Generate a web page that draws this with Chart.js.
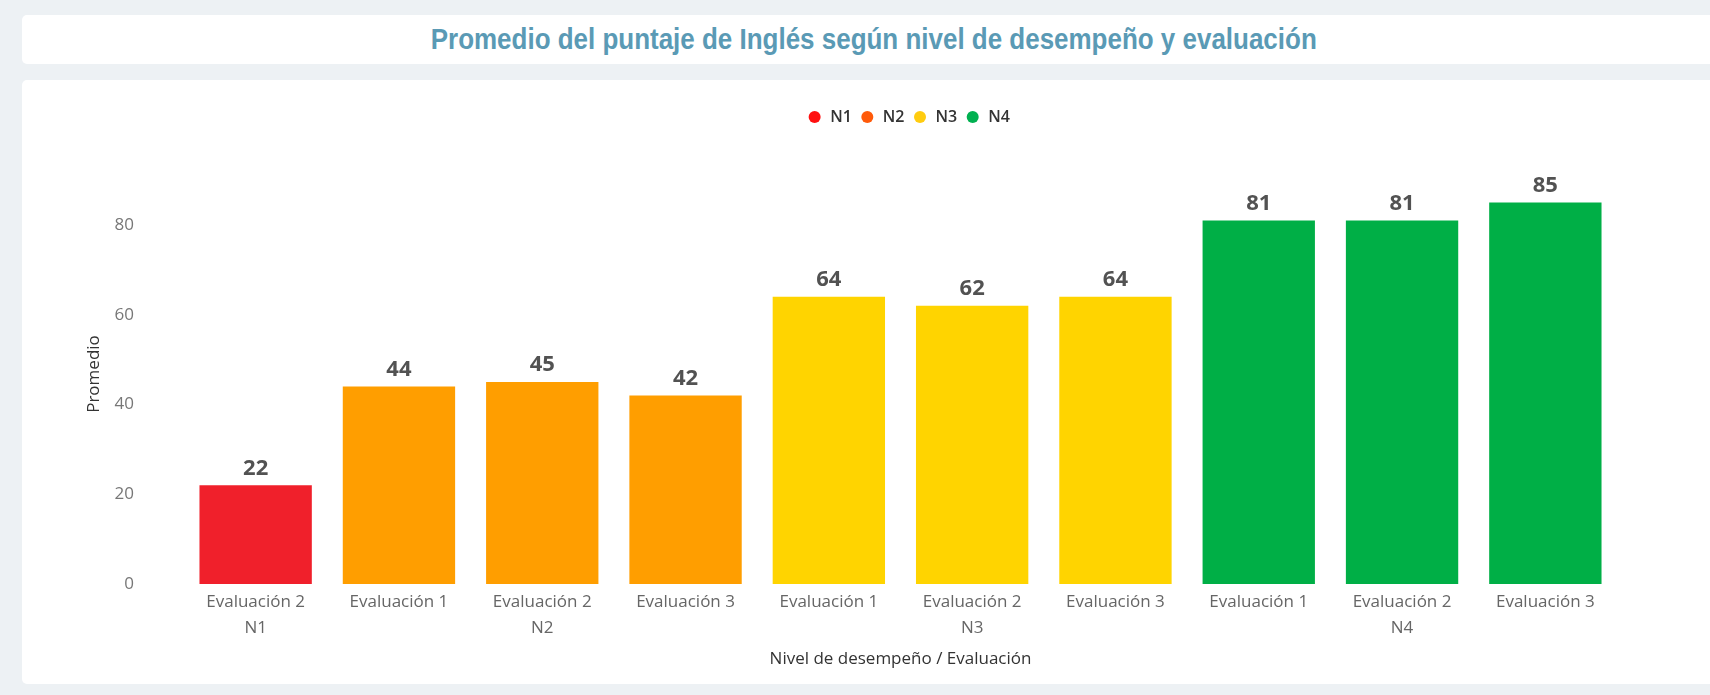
<!DOCTYPE html>
<html lang="es">
<head>
<meta charset="utf-8">
<title>Promedio del puntaje de Inglés</title>
<script src="https://cdn.jsdelivr.net/npm/chart.js@4.4.1/dist/chart.umd.min.js"></script>
<style>
  html, body { margin: 0; padding: 0; }
  body {
    width: 1710px; height: 695px; overflow: hidden;
    background: #edf1f4; position: relative;
    font-family: "Open Sans", sans-serif;
  }
  .card { position: absolute; background: #ffffff; border-radius: 5px; }
  #titleCard {
    left: 22px; top: 15px; width: 1704px; height: 49px;
    display: flex; align-items: center; justify-content: center;
  }
  #titleText {
    font: bold 29px "Liberation Sans Narrow", "Liberation Sans", Arial, sans-serif;
    color: #5a9ab5; white-space: nowrap; transform-origin: center;
  }
  #chartCard { left: 22px; top: 80px; width: 1704px; height: 604px; }
  #chartBox { position: absolute; left: 0; top: 0; width: 1688px; height: 604px; }
</style>
</head>
<body>
<div id="titleCard" class="card">
  <div id="titleText">Promedio del puntaje de Inglés según nivel de desempeño y evaluación</div>
</div>
<div id="chartCard" class="card">
  <div id="chartBox"><canvas id="chart"></canvas></div>
</div>
<script>
// Evaluación de cada barra, su nivel de desempeño y el puntaje promedio
const evaluaciones = ['Evaluación 2', 'Evaluación 1', 'Evaluación 2', 'Evaluación 3',
                      'Evaluación 1', 'Evaluación 2', 'Evaluación 3',
                      'Evaluación 1', 'Evaluación 2', 'Evaluación 3'];
const niveles = ['N1', 'N2', 'N2', 'N2', 'N3', 'N3', 'N3', 'N4', 'N4', 'N4'];
const promedios = [22, 44, 45, 42, 64, 62, 64, 81, 81, 85];

const nivelesLeyenda = ['N1', 'N2', 'N3', 'N4'];
const coloresBarra = ['#F0202B', '#FF9E00', '#FFD400', '#00AF46'];
const coloresLeyenda = ['#FF1010', '#FF5A0A', '#FFCC10', '#00B050'];
const yTicks = [0, 20, 40, 60, 80];

const FONT = '"Open Sans", "Noto Sans", sans-serif';

// Title: fit the condensed heading to its width
(function () {
  const el = document.getElementById('titleText');
  const w = el.getBoundingClientRect().width;
  el.style.transform = 'scaleX(' + (886 / w) + ')';
})();

// Category labels: the level name goes under the middle bar of its group
const xLabels = evaluaciones.map((e, i) => {
  const idx = niveles.map((n, j) => (n === niveles[i] ? j : -1)).filter(j => j >= 0);
  const mid = idx[Math.floor(idx.length / 2)];
  return i === mid ? [e, niveles[i]] : e;
});

const datasets = nivelesLeyenda.map((nv, k) => ({
  label: nv,
  data: promedios.map((v, i) => (niveles[i] === nv ? v : null)),
  backgroundColor: coloresBarra[k],
  borderWidth: 0,
  grouped: false,
  categoryPercentage: 1,
  barPercentage: 0.784
}));

// Value labels above each bar
const etiquetasValor = {
  id: 'etiquetasValor',
  afterDatasetsDraw(chart) {
    const { ctx } = chart;
    ctx.save();
    ctx.font = 'bold 22px ' + FONT;
    ctx.fillStyle = '#525252';
    ctx.textAlign = 'center';
    ctx.textBaseline = 'middle';
    chart.data.datasets.forEach((ds, di) => {
      const meta = chart.getDatasetMeta(di);
      meta.data.forEach((bar, i) => {
        const v = ds.data[i];
        if (v === null || v === undefined) return;
        ctx.fillText(String(v), bar.x, bar.y - 17);
      });
    });
    ctx.restore();
  }
};

// Legend block: extra room below it and a small shift to the right
const LEGEND_BLOCK = 63;
const LEGEND_SHIFT = 8;
const espacioLeyenda = {
  id: 'espacioLeyenda',
  beforeLayout(chart) {
    const lg = chart.legend;
    if (lg && !lg._espacio) {
      const fit = lg.fit;
      lg.fit = function () {
        fit.call(this);
        this.height = LEGEND_BLOCK;
      };
      lg._espacio = true;
    }
  },
  afterLayout(chart) {
    const lg = chart.legend;
    if (lg) {
      lg.left += LEGEND_SHIFT;
      lg.right += LEGEND_SHIFT;
    }
  }
};

new Chart(document.getElementById('chart'), {
  type: 'bar',
  data: { labels: xLabels, datasets },
  plugins: [espacioLeyenda, etiquetasValor],
  options: {
    responsive: true,
    maintainAspectRatio: false,
    animation: false,
    layout: { padding: { left: 40, right: 93, top: 21, bottom: 0 } },
    plugins: {
      legend: {
        position: 'top',
        fullSize: false,
        labels: {
          usePointStyle: true,
          pointStyle: 'circle',
          boxWidth: 15,
          boxHeight: 8.5,
          padding: 8,
          color: '#333333',
          font: { family: FONT, size: 16, weight: '600' },
          generateLabels(chart) {
            const items = Chart.defaults.plugins.legend.labels.generateLabels(chart);
            items.forEach((it, k) => {
              it.fillStyle = coloresLeyenda[k];
              it.strokeStyle = coloresLeyenda[k];
              it.lineWidth = 0;
            });
            return items;
          }
        }
      },
      tooltip: { enabled: false }
    },
    scales: {
      x: {
        grid: { display: false, drawTicks: false },
        border: { display: false },
        ticks: {
          color: '#666666',
          font: { family: FONT, size: 17, lineHeight: 1.565 },
          padding: 4.4,
          maxRotation: 0,
          autoSkip: false
        },
        title: {
          display: true,
          text: 'Nivel de desempeño / Evaluación',
          color: '#333333',
          font: { family: FONT, size: 17 },
          padding: 14.5
        },
        afterFit(s) { s.height = 100; }
      },
      y: {
        min: 0,
        max: 93.6,
        grid: { display: false, drawTicks: false },
        border: { display: false },
        ticks: {
          color: '#777777',
          font: { family: FONT, size: 17 },
          padding: 50
        },
        afterBuildTicks(s) { s.ticks = yTicks.map(v => ({ value: v })); },
        title: {
          display: true,
          text: 'Promedio',
          color: '#333333',
          font: { family: FONT, size: 17 },
          padding: 21.6
        },
        afterFit(s) { s.width = 122; }
      }
    }
  }
});
</script>
</body>
</html>
